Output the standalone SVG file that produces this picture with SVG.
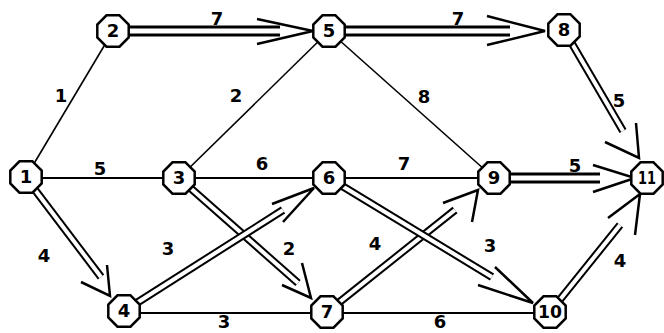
<svg xmlns="http://www.w3.org/2000/svg" xmlns:xlink="http://www.w3.org/1999/xlink" width="664" height="333" viewBox="0 0 664 333">
<style>
.thin{stroke:#000;stroke-width:1.6;fill:none}
.thinh{stroke:#000;stroke-width:2;fill:none}
.out{stroke:#000;stroke-width:8;fill:none}
.in{stroke:#fff;stroke-width:4;fill:none}
.outh{stroke:#000;stroke-width:11;fill:none}
.inh{stroke:#fff;stroke-width:5;fill:none}
.head{stroke:#000;stroke-width:2.5;fill:none;stroke-linejoin:miter}
.node{fill:#fff;stroke:#000;stroke-width:2.5}
text{font-family:"DejaVu Sans","Liberation Sans",sans-serif;font-weight:bold;font-size:18px;text-anchor:middle;fill:#000}
.nt{font-size:18px}
</style>
<defs>
<polygon id="oct" points="6.5,-15.7 15.7,-6.5 15.7,6.5 6.5,15.7 -6.5,15.7 -15.7,6.5 -15.7,-6.5 -6.5,-15.7"/>
</defs>
<rect width="664" height="333" fill="#fff"/>
<g id="connectors">
<line class="thin" x1="26" y1="177" x2="113" y2="31"/>
<line class="thin" x1="329" y1="31" x2="179" y2="178"/>
<line class="thin" x1="329" y1="31" x2="494" y2="178"/>
<line class="thinh" x1="26" y1="178" x2="179" y2="178"/>
<line class="thinh" x1="179" y1="178" x2="329" y2="178"/>
<line class="thinh" x1="329" y1="178" x2="494" y2="178"/>
<line class="thinh" x1="124" y1="313" x2="327" y2="313"/>
<line class="thinh" x1="327" y1="313" x2="550" y2="313"/>

<line class="outh" x1="113" y1="31" x2="280" y2="31"/><line class="inh" x1="113" y1="31" x2="280" y2="31"/>
<polyline class="head" points="257,19 313,31 257,44"/>
<line class="outh" x1="329" y1="31" x2="510" y2="31"/><line class="inh" x1="329" y1="31" x2="510" y2="31"/>
<polyline class="head" points="487,16 545,31 487,45"/>
<line class="out" x1="564" y1="30" x2="623" y2="131"/><line class="in" x1="564" y1="30" x2="623" y2="131"/>
<polyline class="head" points="605,142 639,158 636,123"/>
<line class="outh" x1="494" y1="178" x2="600" y2="178"/><line class="inh" x1="494" y1="178" x2="600" y2="178"/>
<polyline class="head" points="593,165 635,178 593,192"/>
<line class="out" x1="26" y1="178" x2="101" y2="277"/><line class="in" x1="26" y1="178" x2="101" y2="277"/>
<polyline class="head" points="81,282 110,296 107,265"/>
<line class="out" x1="179" y1="178" x2="298" y2="283"/><line class="in" x1="179" y1="178" x2="298" y2="283"/>
<polyline class="head" points="282,285 311,298 302,263"/>
<line class="out" x1="124" y1="311" x2="283" y2="210"/><line class="in" x1="124" y1="311" x2="283" y2="210"/>
<polyline class="head" points="272,204 314,188 283,222"/>
<line class="out" x1="327" y1="312" x2="455" y2="210"/><line class="in" x1="327" y1="312" x2="455" y2="210"/>
<polyline class="head" points="443,203 478,190 472,222"/>
<line class="out" x1="329" y1="178" x2="492" y2="277"/><line class="in" x1="329" y1="178" x2="492" y2="277"/>
<polyline class="head" points="478,285 533,303 495,267"/>
<line class="out" x1="550" y1="312" x2="620" y2="225"/><line class="in" x1="550" y1="312" x2="620" y2="225"/>
<polyline class="head" points="608,218 640,194 635,235"/>
</g>
<g id="labels">
<text x="217" y="25">7</text>
<text x="458" y="25">7</text>
<text x="61" y="102">1</text>
<text x="236" y="102">2</text>
<text x="424" y="103">8</text>
<text x="619" y="107">5</text>
<text x="100" y="175">5</text>
<text x="262" y="170">6</text>
<text x="404" y="170">7</text>
<text x="575" y="172">5</text>
<text x="44" y="262">4</text>
<text x="168" y="255">3</text>
<text x="289" y="255">2</text>
<text x="375" y="250">4</text>
<text x="490" y="252">3</text>
<text x="620" y="267">4</text>
<text x="224" y="328">3</text>
<text x="440" y="328">6</text>
</g>
<g id="n1"><use xlink:href="#oct" class="node" x="26" y="177"/><text class="nt" x="26" y="183">1</text></g>
<g id="n2"><use xlink:href="#oct" class="node" x="113" y="31"/><text class="nt" x="113" y="37">2</text></g>
<g id="n3"><use xlink:href="#oct" class="node" x="179" y="178"/><text class="nt" x="179" y="184">3</text></g>
<g id="n4"><use xlink:href="#oct" class="node" x="124" y="311"/><text class="nt" x="124" y="317">4</text></g>
<g id="n5"><use xlink:href="#oct" class="node" x="329" y="31"/><text class="nt" x="329" y="37">5</text></g>
<g id="n6"><use xlink:href="#oct" class="node" x="329" y="178"/><text class="nt" x="329" y="184">6</text></g>
<g id="n7"><use xlink:href="#oct" class="node" x="327" y="312"/><text class="nt" x="327" y="318">7</text></g>
<g id="n8"><use xlink:href="#oct" class="node" x="564" y="30"/><text class="nt" x="564" y="36">8</text></g>
<g id="n9"><use xlink:href="#oct" class="node" x="494" y="178"/><text class="nt" x="494" y="184">9</text></g>
<g id="n10"><use xlink:href="#oct" class="node" x="550" y="312"/><text class="nt" x="550" y="318" textLength="24" lengthAdjust="spacingAndGlyphs">10</text></g>
<g id="n11"><use xlink:href="#oct" class="node" x="647" y="178"/><text class="nt" x="647" y="184" textLength="18" lengthAdjust="spacingAndGlyphs">11</text></g>
</svg>
